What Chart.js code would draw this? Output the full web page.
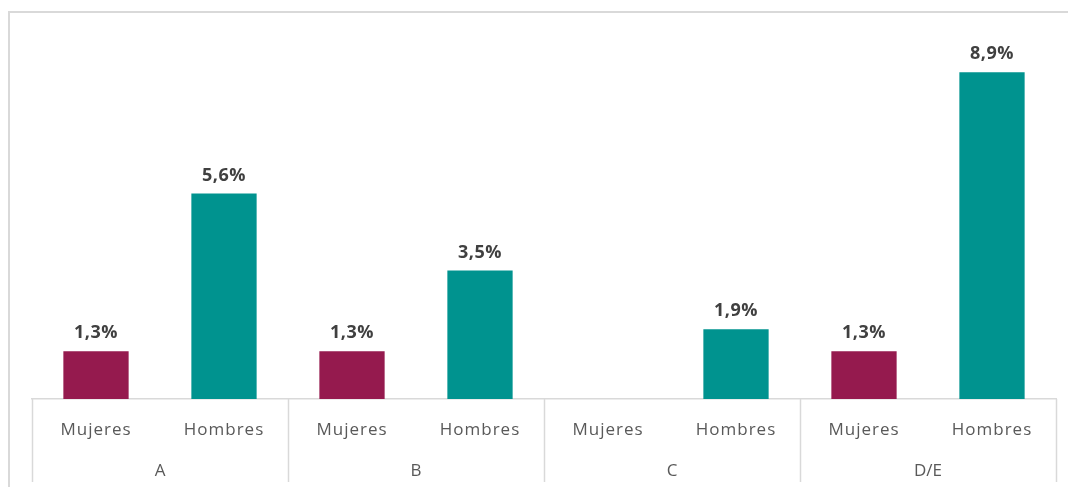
<!DOCTYPE html>
<html>
<head>
<meta charset="utf-8">
<script src="https://cdn.jsdelivr.net/npm/chart.js@4"></script>
<style>
  html, body { margin: 0; padding: 0; background: #fff; }
  #frame { position: absolute; left: 8px; top: 11px; width: 1060px; height: 476px;
           border-top: 2px solid #d9d9d9; border-left: 2px solid #d9d9d9; box-sizing: border-box; }
  #wrap { position: absolute; left: 0; top: 0; width: 1068px; height: 487px; }
</style>
</head>
<body>
<div id="frame"></div>
<div id="wrap"><canvas id="chart"></canvas></div>
<script>
// categories and values
const sexLabels = ["Mujeres", "Hombres", "Mujeres", "Hombres", "Mujeres", "Hombres", "Mujeres", "Hombres"];
const groupLabels = ["A", "B", "C", "D/E"];
const values = [1.3, 5.6, 1.3, 3.5, null, 1.9, 1.3, 8.9];

const colorMujeres = "#951a4e";
const colorHombres = "#00938f";
const lineColor = "#d9d9d9";
const textColor = "#595959";

// wider letter spacing for the axis text
const spacing = {
  id: "spacing",
  beforeDraw(chart) { chart.ctx.letterSpacing = "1px"; },
  afterDraw(chart) { chart.ctx.letterSpacing = "0px"; }
};

// percent labels above each bar
const valueLabels = {
  id: "valueLabels",
  afterDatasetsDraw(chart) {
    const ctx = chart.ctx;
    const meta = chart.getDatasetMeta(0);
    ctx.save();
    ctx.letterSpacing = "0.5px";
    ctx.font = "bold 18px 'Open Sans'";
    ctx.fillStyle = "#404040";
    ctx.textAlign = "center";
    ctx.textBaseline = "bottom";
    meta.data.forEach((bar, i) => {
      if (values[i] === null) return;
      const txt = values[i].toFixed(1).replace(".", ",") + "%";
      ctx.fillText(txt, bar.x, bar.y - 9);
    });
    ctx.restore();
  }
};

// group labels and separators under the axis
const groupAxis = {
  id: "groupAxis",
  afterDraw(chart) {
    const ctx = chart.ctx;
    const x = chart.scales.x;
    const area = chart.chartArea;
    const bottom = 482;
    ctx.save();
    ctx.strokeStyle = lineColor;
    ctx.lineWidth = 1.5;
    const edges = [area.left];
    for (let g = 1; g < groupLabels.length; g++) {
      edges.push((x.getPixelForValue(2 * g - 1) + x.getPixelForValue(2 * g)) / 2);
    }
    edges.push(area.right);
    edges.forEach(px => {
      ctx.beginPath();
      ctx.moveTo(Math.round(px) + 0.5, area.bottom);
      ctx.lineTo(Math.round(px) + 0.5, bottom);
      ctx.stroke();
    });
    ctx.font = "17px 'Open Sans'";
    ctx.fillStyle = textColor;
    ctx.textAlign = "center";
    ctx.textBaseline = "middle";
    groupLabels.forEach((g, i) => {
      ctx.fillText(g, (edges[i] + edges[i + 1]) / 2, 471);
    });
    ctx.restore();
  }
};

new Chart(document.getElementById("chart"), {
  type: "bar",
  data: {
    labels: sexLabels,
    datasets: [{
      data: values,
      backgroundColor: sexLabels.map(s => s === "Mujeres" ? colorMujeres : colorHombres),
      barPercentage: 0.51,
      categoryPercentage: 1
    }]
  },
  options: {
    responsive: true,
    maintainAspectRatio: false,
    animation: false,
    layout: { padding: { left: 32, right: 12, top: 32, bottom: 0 } },
    plugins: { legend: { display: false }, tooltip: { enabled: false } },
    scales: {
      y: { display: false, min: 0, max: 10 },
      x: {
        grid: { display: false },
        border: { display: true, color: lineColor, width: 1.5 },
        ticks: { color: textColor, font: { family: "'Open Sans'", size: 17 }, padding: 13, maxRotation: 0 },
        afterFit(scale) { scale.height = 88; }
      }
    }
  },
  plugins: [spacing, valueLabels, groupAxis]
});
</script>
</body>
</html>
